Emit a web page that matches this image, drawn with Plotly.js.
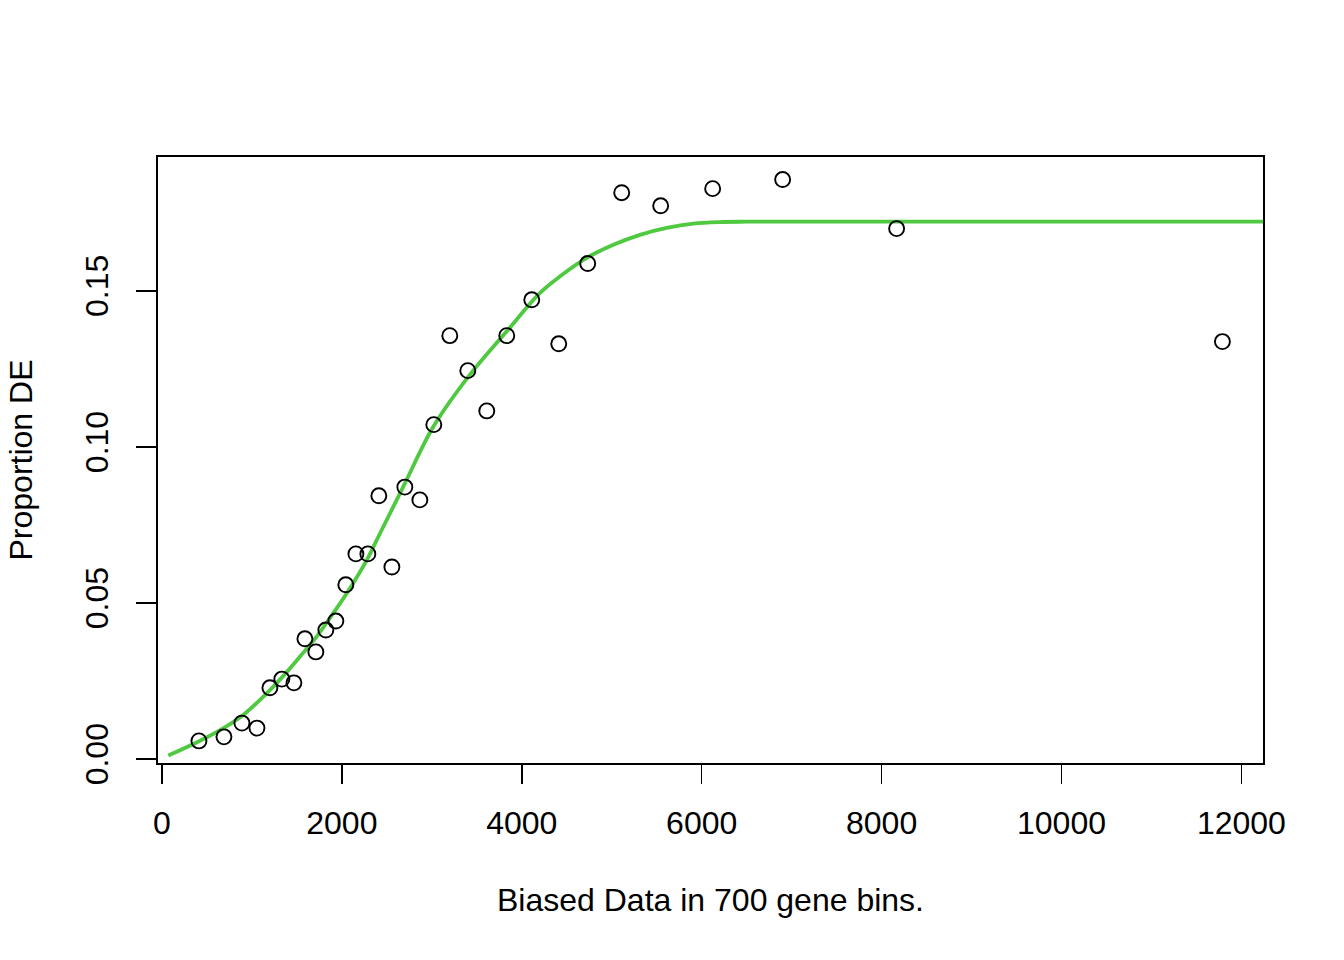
<!DOCTYPE html>
<html>
<head>
<meta charset="utf-8">
<script src="https://cdn.plot.ly/plotly-3.0.1.min.js"></script>
<style>
  html, body { margin:0; padding:0; background:#fff; }
  #chart { width:1344px; height:960px; }
</style>
</head>
<body>
<div id="chart"></div>
<script>
// ---- observed points (bin mean x, proportion DE) ----
const binX = [411, 689, 889, 1056, 1200, 1333, 1467, 1589, 1711, 1822, 1933, 2044,
              2156, 2289, 2411, 2556, 2700, 2867, 3022, 3200, 3400, 3611, 3833, 4111,
              4411, 4733, 5111, 5544, 6122, 6900, 8167, 11789];
const propDE = [0.0058, 0.0071, 0.0115, 0.0099, 0.0228, 0.0256, 0.0244, 0.0385, 0.0343,
                0.0413, 0.0442, 0.0558, 0.0657, 0.0657, 0.0843, 0.0615, 0.0871, 0.0830,
                0.1071, 0.1356, 0.1244, 0.1115, 0.1356, 0.1471, 0.1330, 0.1587, 0.1814,
                0.1772, 0.1827, 0.1856, 0.1699, 0.1337];

// ---- fitted curve ----
const fitX = [70, 407, 684, 907, 1167, 1314, 1537, 1722, 1907, 2092, 2278, 2426, 2684,
              3018, 3426, 3833, 4203, 4426, 4722, 5018, 5314, 5611, 5907, 6203, 6500,
              7000, 8000, 9000, 10000, 11000, 12000, 12500];
const fitY = [0.0011, 0.0056, 0.0099, 0.0142, 0.0211, 0.0255, 0.0329, 0.0393, 0.0468,
              0.0548, 0.0638, 0.0724, 0.0873, 0.1065, 0.1232, 0.1370, 0.1493, 0.1546,
              0.1605, 0.1647, 0.1679, 0.1701, 0.1715, 0.1720, 0.1721, 0.1721, 0.1721,
              0.1721, 0.1721, 0.1721, 0.1721, 0.1721];

const xTicks = [0, 2000, 4000, 6000, 8000, 10000, 12000];
const yTicks = [0.00, 0.05, 0.10, 0.15];
const yTickText = ['0.00', '0.05', '0.10', '0.15'];

const font = { family: 'Liberation Sans, Arial, sans-serif', size: 32, color: '#000' };

Plotly.newPlot('chart', [
  {
    type: 'scatter', mode: 'lines',
    x: fitX, y: fitY,
    line: { color: '#4fc93f', width: 3.8, shape: 'spline', smoothing: 1 },
    hoverinfo: 'skip'
  },
  {
    type: 'scatter', mode: 'markers',
    x: binX, y: propDE,
    marker: { symbol: 'circle-open', size: 15, color: '#000', line: { color: '#000', width: 1.9 } }
  }
], {
  width: 1344, height: 960,
  margin: { l: 158, r: 81, t: 157, b: 197 },
  paper_bgcolor: '#fff', plot_bgcolor: '#fff',
  showlegend: false,
  font,
  xaxis: {
    range: [-44, 12240],
    tickvals: xTicks, ticktext: xTicks.map(String),
    ticks: 'outside', ticklen: 19, tickwidth: 1.6, tickcolor: '#000',
    ticklabelstandoff: 12,
    showline: true, mirror: true, linecolor: '#000', linewidth: 1.6,
    showgrid: false, zeroline: false,
    tickfont: font,
    title: { text: 'Biased Data in 700 gene bins.', font, standoff: 48 }
  },
  yaxis: {
    range: [-0.00128, 0.19283],
    tickvals: yTicks, ticktext: yTickText, tickangle: -90,
    ticks: 'outside', ticklen: 20, tickwidth: 1.6, tickcolor: '#000',
    ticklabelstandoff: 16,
    showline: true, mirror: true, linecolor: '#000', linewidth: 1.6,
    showgrid: false, zeroline: false,
    tickfont: font,
    title: { text: 'Proportion DE', font, standoff: 36 }
  }
}, { displayModeBar: false, staticPlot: true });
</script>
</body>
</html>
